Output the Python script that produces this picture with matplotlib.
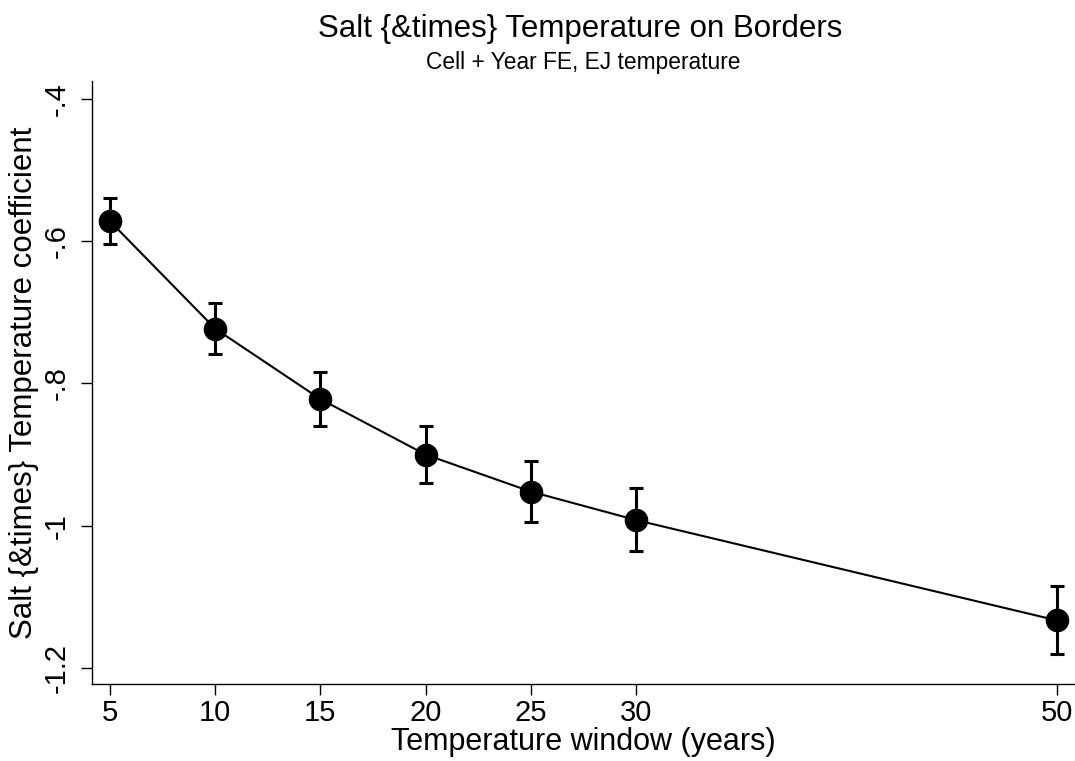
import matplotlib.pyplot as plt
import numpy as np

plt.rcParams['font.family'] = ['Liberation Sans', 'DejaVu Sans']

# data
windows = [5, 10, 15, 20, 25, 30, 50]
coef = [-0.572, -0.723, -0.822, -0.900, -0.952, -0.992, -1.133]
ci_hi = [-0.540, -0.687, -0.784, -0.860, -0.909, -0.947, -1.084]
ci_lo = [-0.604, -0.758, -0.860, -0.940, -0.994, -1.035, -1.180]
yticks = [-1.2, -1.0, -0.8, -0.6, -0.4]
ytick_labels = ['-1.2', '-1', '-.8', '-.6', '-.4']

coef = np.array(coef)
err = [coef - np.array(ci_lo), np.array(ci_hi) - coef]

fig = plt.figure(figsize=(10.75, 7.61), dpi=100)
ax = fig.add_axes([0.0856, 0.101, 0.9144, 0.7926])

ax.plot(windows, coef, color='black', linewidth=1.5, zorder=2)
ax.errorbar(windows, coef, yerr=err, fmt='none', ecolor='black',
            elinewidth=2.2, capsize=5, capthick=2.2, zorder=3)
ax.plot(windows, coef, 'o', color='black', markersize=16, zorder=4)

ax.set_xlim(4.15, 50.85)
ax.set_ylim(-1.2225, -0.375)
ax.set_xticks(windows)
ax.set_xticklabels([str(w) for w in windows], fontsize=21)
ax.set_yticks(yticks)
ax.set_yticklabels(ytick_labels, fontsize=21, rotation=90, va='center')
ax.tick_params(length=8, width=1, color='black')
ax.tick_params(axis='y', pad=7)
ax.tick_params(axis='x', pad=2.5)

for s in ['top', 'right']:
    ax.spines[s].set_visible(False)
for s in ['left', 'bottom']:
    ax.spines[s].set_linewidth(1)

ax.set_xlabel('Temperature window (years)', fontsize=22, labelpad=0)
ax.set_ylabel('Salt {&times} Temperature coefficient', fontsize=22.5, labelpad=3)

fig.text(0.540, 0.962, 'Salt {&times} Temperature on Borders', ha='center', va='center', fontsize=22.5)
fig.text(0.543, 0.918, 'Cell + Year FE, EJ temperature', ha='center', va='center', fontsize=16.4)

plt.savefig('out.png', dpi=100)
plt.close()
